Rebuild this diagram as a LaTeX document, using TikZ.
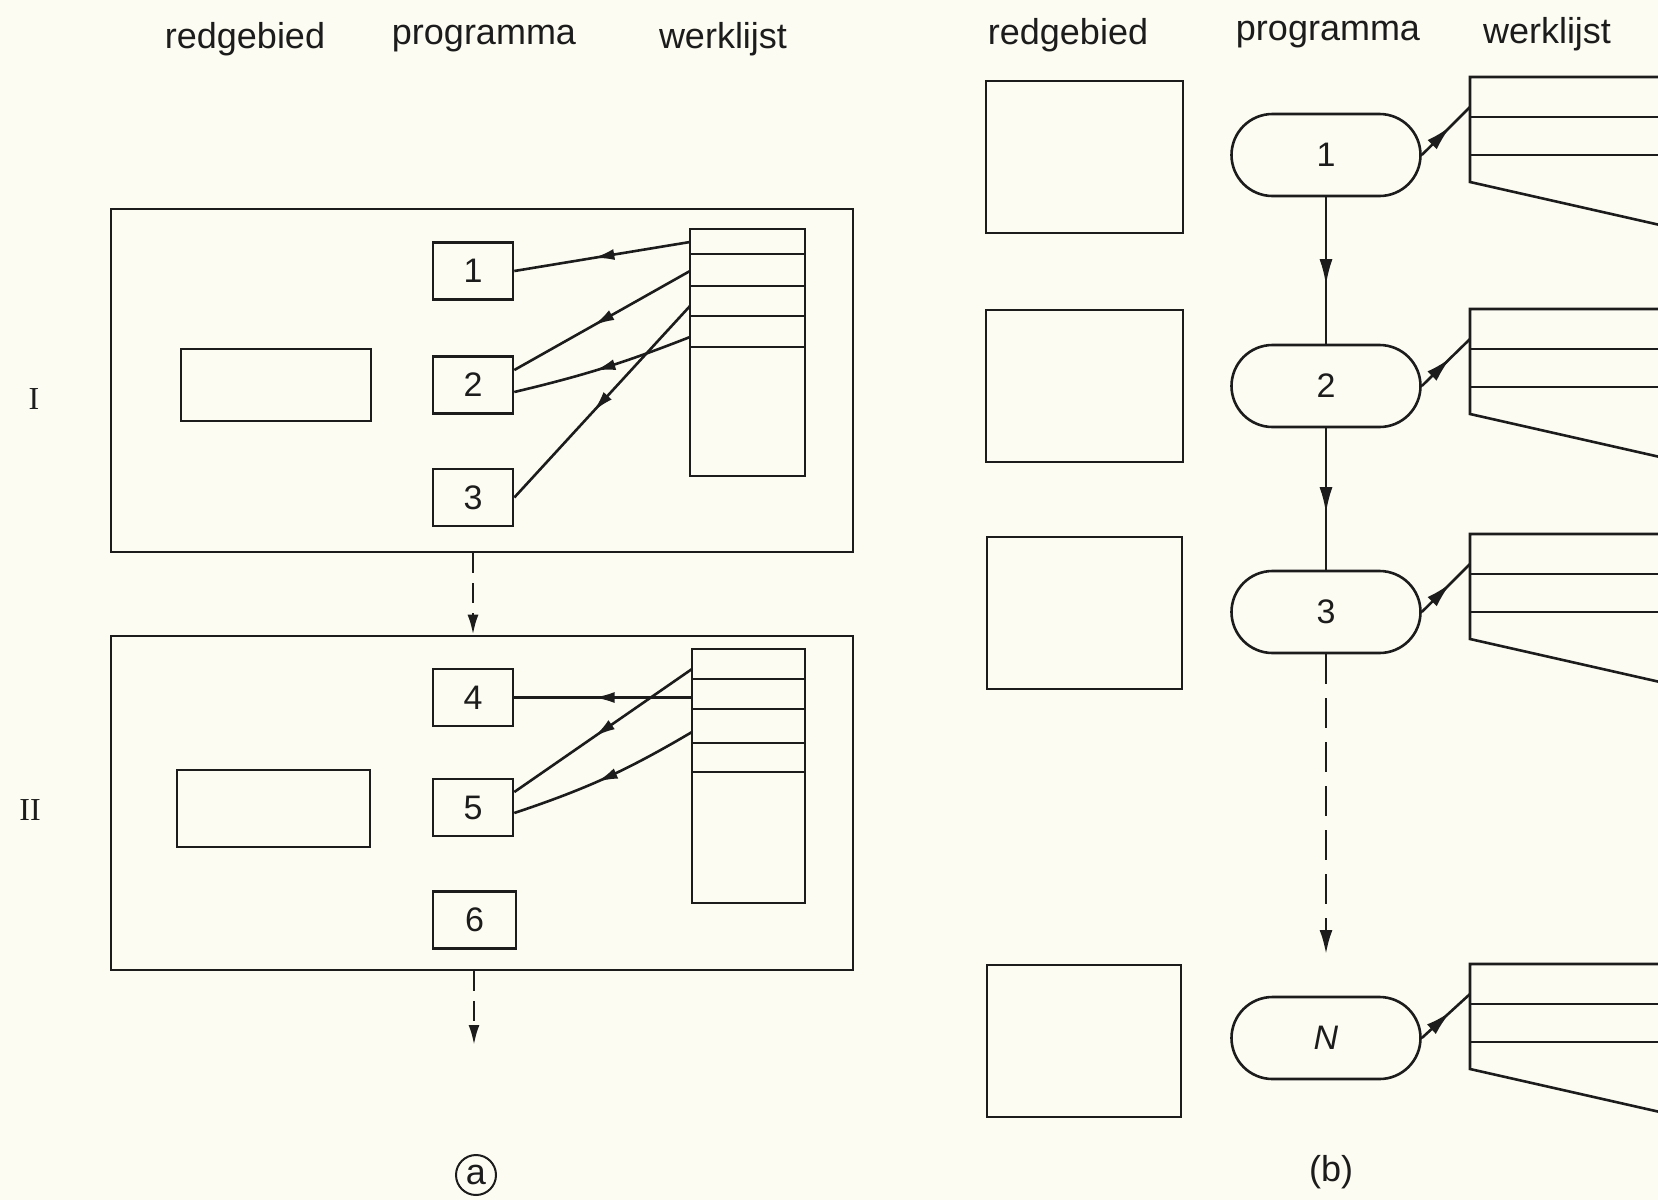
\documentclass[tikz,border=0pt]{standalone}
\usepackage{fontspec}
\setmainfont{Liberation Sans}
\newfontfamily\romanfont{Liberation Serif}
\usetikzlibrary{arrows.meta,shapes.misc,decorations.markings,calc}
\definecolor{paper}{RGB}{253,252,242}
\definecolor{ink}{RGB}{28,28,28}
\begin{document}
\begin{tikzpicture}[x=1pt,y=-1pt, line width=2.6pt, color=ink,
  hdr/.style={font=\fontsize{36}{40}\selectfont},
  num/.style={font=\fontsize{34}{36}\selectfont},
  pbox/.style={draw, minimum width=80pt, minimum height=57pt, inner sep=0pt, num},
  rbox/.style={draw, inner sep=0pt},
  stad/.style={draw, rounded rectangle, minimum width=189pt, minimum height=82pt, inner sep=0pt, num},
  midarrA/.style={postaction={decorate}, decoration={markings, mark=at position 0.55 with {\arrow{Latex[length=21pt,width=11pt]}}}},
  midarrB/.style={postaction={decorate}, decoration={markings, mark=at position 0.6 with {\arrow{Latex[length=26pt,width=13pt]}}}},
  dashA/.style={dash pattern=on 20pt off 10pt, -{Latex[length=20pt,width=11pt]}},
  dashB/.style={dash pattern=on 30pt off 14pt, -{Latex[length=24pt,width=13pt]}},
  lbl/.style={font=\fontsize{36}{40}\selectfont}
]
\fill[paper] (0,0) rectangle (1658,1200);
\useasboundingbox (0,0) rectangle (1658,1200);

% ---------- headers ----------
\node[hdr] (h1) at (245,39) {redgebied};
\node[hdr] (h2) at (484,39) {programma};
\node[hdr] (h3) at (723,39) {werklijst};
\node[hdr] (h4) at (1068,35) {redgebied};
\node[hdr] (h5) at (1328,35) {programma};
\node[hdr] (h6) at (1547,34) {werklijst};

% ---------- (a) ----------
\node[font=\romanfont\fontsize{32}{34}\selectfont] (rI) at (34,399) {I};
\node[font=\romanfont\fontsize{32}{34}\selectfont] (rII) at (30,810) {II};

\node[rbox, minimum width=742pt, minimum height=343pt] (f1) at (482,380.5) {};
\node[rbox, minimum width=742pt, minimum height=334pt] (f2) at (482,803) {};

\node[rbox, minimum width=190pt, minimum height=72pt] (r1) at (276,385) {};
\node[rbox, minimum width=193pt, minimum height=77pt] (r2) at (273.5,808.5) {};

\node[pbox] (b1) at (473,271) {1};
\node[pbox] (b2) at (473,385) {2};
\node[pbox] (b3) at (473,497.5) {3};
\node[pbox] (b4) at (473,697.5) {4};
\node[pbox] (b5) at (473,807.5) {5};
\node[pbox, minimum width=83pt] (b6) at (474.5,920) {6};

\node[rbox, minimum width=115pt, minimum height=247pt] (wA) at (747.5,352.5) {};
\draw (690,254) -- (805,254);
\draw (690,286) -- (805,286);
\draw (690,316) -- (805,316);
\draw (690,347) -- (805,347);

\node[rbox, minimum width=113pt, minimum height=254pt] (wB) at (748.5,776) {};
\draw (692,679) -- (805,679);
\draw (692,709) -- (805,709);
\draw (692,743) -- (805,743);
\draw (692,772) -- (805,772);

\coordinate (wa1) at (690,242);
\coordinate (wa2) at (690,271);
\coordinate (wa3) at (690,306);
\coordinate (wa4) at (690,337);
\draw[midarrA] (wa1) -- (b1.east);
\draw[midarrA] (wa2) -- ($(b2.east)+(0,-15)$);
\draw[midarrA] (wa3) -- (b3.east);
\draw[midarrA] (wa4) to[bend left=4] ($(b2.east)+(0,7)$);

\coordinate (wb1) at (692,669);
\coordinate (wb3) at (692,732);
\draw[midarrA] (b4.east -| wB.west) -- (b4.east);
\draw[midarrA] (wb1) -- ($(b5.east)+(0,-15.5)$);
\draw[midarrA] (wb3) to[bend left=6] ($(b5.east)+(0,5.5)$);

\draw[dashA] (b3.south |- f1.south) -- (b4.north |- f2.north);
\coordinate (aout) at (474,1045);
\draw[dashA] (aout |- f2.south) -- (aout);

\node[lbl, circle, draw, line width=2pt, minimum size=40pt, inner sep=0pt] (la) at (476,1175) {a};

% ---------- (b) ----------
\node[rbox, minimum width=197pt, minimum height=152pt] (q1) at (1084.5,157) {};
\node[rbox, minimum width=197pt, minimum height=152pt] (q2) at (1084.5,386) {};
\node[rbox, minimum width=195pt, minimum height=152pt] (q3) at (1084.5,613) {};
\node[rbox, minimum width=194pt, minimum height=152pt] (q4) at (1084,1041) {};

\node[stad] (s1) at (1326,155) {1};
\node[stad] (s2) at (1326,386) {2};
\node[stad] (s3) at (1326,612) {3};
\node[stad] (sN) at (1326,1038) {\itshape N};

\draw[midarrB] (s1.south) -- (s2.north);
\draw[midarrB] (s2.south) -- (s3.north);
\coordinate (nin) at (1326,954);
\draw[dashB] (s3.south) -- (nin);

\foreach \T/\s in {77/s1,309/s2,534/s3,964/sN}{
  \draw (1660,\T) -- (1470,\T) -- (1470,\T+105) -- (1660,\T+148);
  \draw (1470,\T+40) -- (1660,\T+40);
  \draw (1470,\T+78) -- (1660,\T+78);
  \coordinate (wk\s) at (1470,\T+30);
  \draw[midarrB] (\s.east) -- (wk\s);
}

\node[lbl] (lb) at (1331,1172) {(b)};
\end{tikzpicture}
\end{document}
